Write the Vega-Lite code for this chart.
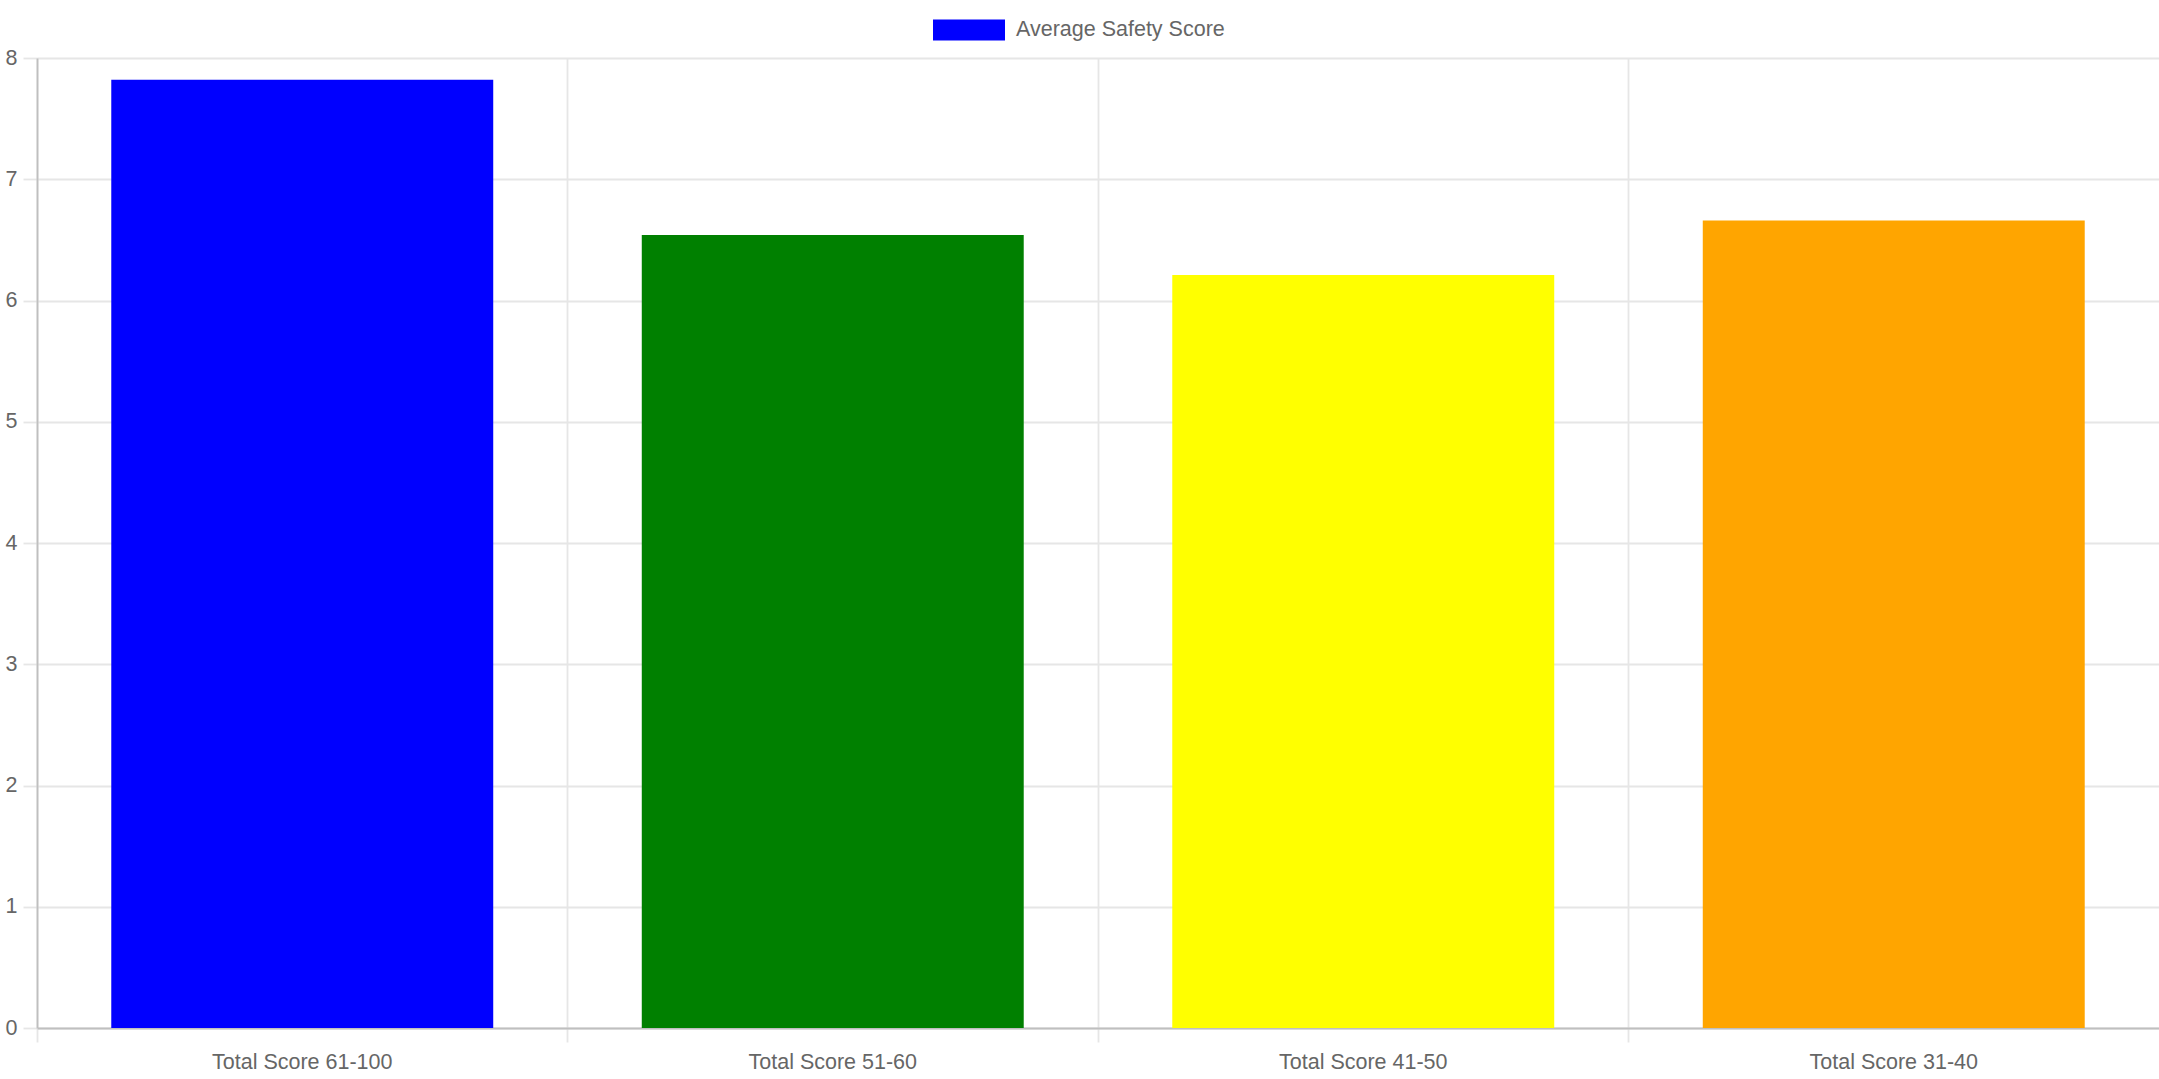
{
  "$schema": "https://vega.github.io/schema/vega-lite/v6.json",
  "autosize": {"type": "none"},
  "width": 2122,
  "height": 970,
  "padding": {"left": 37, "top": 58, "right": 0, "bottom": 51},
  "background": "white",
  "config": {
    "view": {"stroke": null},
    "font": "Liberation Sans"
  },
  "data": {
    "values": [
      {"range": "Total Score 61-100", "score": 7.82},
      {"range": "Total Score 51-60", "score": 6.54},
      {"range": "Total Score 41-50", "score": 6.21},
      {"range": "Total Score 31-40", "score": 6.66}
    ]
  },
  "encoding": {
    "x": {
      "field": "range",
      "type": "nominal",
      "sort": null,
      "scale": {"paddingInner": 0.28, "paddingOuter": 0.14},
      "axis": {
        "title": null,
        "labelAngle": 0,
        "labelFont": "Liberation Sans",
        "labelFontSize": 21.5,
        "labelColor": "#666666",
        "labelBaseline": "alphabetic",
        "labelPadding": 26,
        "labelLimit": 600,
        "bandPosition": -0.1944,
        "grid": true,
        "gridColor": "#e6e6e6",
        "gridWidth": 1.8,
        "ticks": true,
        "tickSize": 14,
        "tickColor": "#e6e6e6",
        "tickWidth": 1.8,
        "domain": true,
        "domainColor": "#bfbfbf",
        "domainWidth": 1.8
      }
    },
    "y": {
      "field": "score",
      "type": "quantitative",
      "scale": {"domain": [0, 8], "nice": false},
      "axis": {
        "title": null,
        "values": [0, 1, 2, 3, 4, 5, 6, 7, 8],
        "labelFont": "Liberation Sans",
        "labelFontSize": 21.5,
        "labelColor": "#666666",
        "labelPadding": 6,
        "grid": true,
        "gridColor": "#e6e6e6",
        "gridWidth": 1.8,
        "ticks": true,
        "tickSize": 14,
        "tickColor": "#e6e6e6",
        "tickWidth": 1.8,
        "domain": true,
        "domainColor": "#bfbfbf",
        "domainWidth": 1.8
      }
    }
  },
  "layer": [
    {
      "transform": [{"filter": "false"}],
      "mark": {"type": "bar"},
      "encoding": {
        "fill": {
          "datum": "Average Safety Score",
          "scale": {"range": ["#0000ff"]},
          "legend": {
            "title": null,
            "orient": "none",
            "legendX": 896,
            "legendY": -64,
            "padding": 0,
            "symbolType": "M-1,-0.29H1V0.29H-1Z",
            "symbolSize": 5184,
            "symbolOpacity": 1,
            "symbolStrokeWidth": 0,
            "labelFont": "Liberation Sans",
            "labelFontSize": 21.5,
            "labelColor": "#666666",
            "labelOffset": 11,
            "labelLimit": 600
          }
        }
      }
    },
    {
      "mark": {"type": "bar"},
      "encoding": {
        "color": {
          "field": "range",
          "type": "nominal",
          "sort": null,
          "scale": {
            "domain": ["Total Score 61-100", "Total Score 51-60", "Total Score 41-50", "Total Score 31-40"],
            "range": ["#0000ff", "#008000", "#ffff00", "#ffa500"]
          },
          "legend": null
        }
      }
    }
  ]
}
